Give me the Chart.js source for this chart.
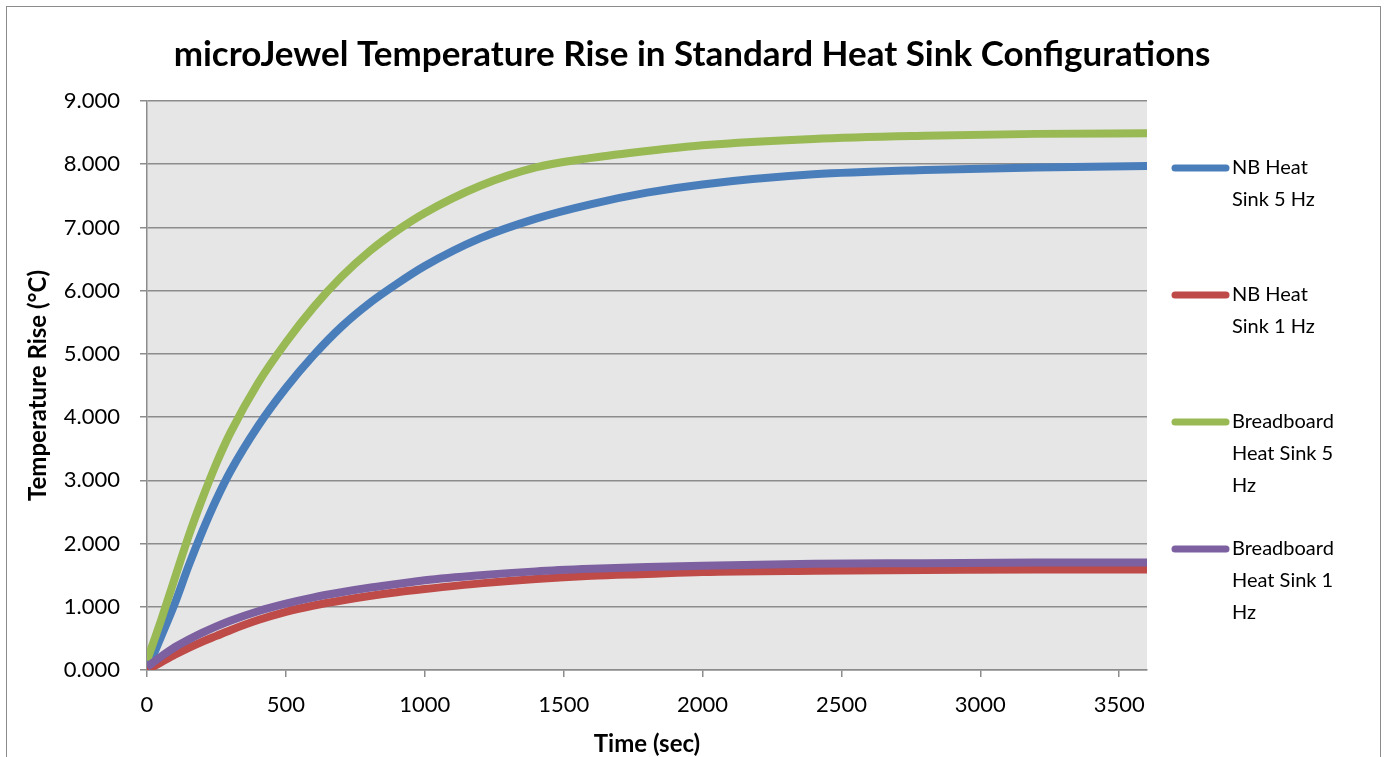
<!DOCTYPE html>
<html>
<head>
<meta charset="utf-8">
<script src="https://cdn.jsdelivr.net/npm/chart.js@4.4.1/dist/chart.umd.min.js"></script>
<style>
    html, body { margin: 0; padding: 0; background: #fff; }
    #wrap { width: 1384px; height: 757px; }
</style>
</head>
<body>
<div id="wrap"><canvas id="chart" width="1384" height="757"></canvas></div>
<script>
// time in seconds
const times = [0, 50, 100, 150, 200, 250, 300, 400, 500, 600, 700, 800, 900, 1000, 1200, 1400, 1600, 1800, 2000, 2400, 2800, 3200, 3600];

const nbHeatSink5Hz = [0, 0.52, 1.05, 1.65, 2.2, 2.7, 3.14, 3.86, 4.46, 4.98, 5.43, 5.8, 6.11, 6.39, 6.83, 7.14, 7.37, 7.55, 7.68, 7.84, 7.91, 7.95, 7.97];
const nbHeatSink1Hz = [0, 0.12, 0.24, 0.35, 0.45, 0.54, 0.63, 0.79, 0.92, 1.02, 1.1, 1.17, 1.23, 1.28, 1.37, 1.44, 1.49, 1.52, 1.55, 1.57, 1.58, 1.59, 1.59];
const bbHeatSink5Hz = [0.15, 0.78, 1.45, 2.12, 2.72, 3.27, 3.75, 4.54, 5.18, 5.74, 6.22, 6.62, 6.95, 7.23, 7.66, 7.95, 8.1, 8.21, 8.3, 8.4, 8.45, 8.48, 8.49];
const bbHeatSink1Hz = [0.05, 0.21, 0.36, 0.48, 0.59, 0.69, 0.78, 0.93, 1.05, 1.15, 1.23, 1.3, 1.36, 1.42, 1.5, 1.56, 1.6, 1.63, 1.65, 1.68, 1.69, 1.70, 1.70];

const xTickValues = [0, 500, 1000, 1500, 2000, 2500, 3000, 3500];

const seriesLabels = ['NB Heat Sink 5 Hz', 'NB Heat Sink 1 Hz', 'Breadboard Heat Sink 5 Hz', 'Breadboard Heat Sink 1 Hz'];
const legendLines = [
    ['NB Heat', 'Sink 5 Hz'],
    ['NB Heat', 'Sink 1 Hz'],
    ['Breadboard', 'Heat Sink 5', 'Hz'],
    ['Breadboard', 'Heat Sink 1', 'Hz']
];
const seriesColors = ['#4a7ebb', '#be4b48', '#98b954', '#7d60a0'];
const seriesValues = [nbHeatSink5Hz, nbHeatSink1Hz, bbHeatSink5Hz, bbHeatSink1Hz];

const chartTitle = 'microJewel Temperature Rise in Standard Heat Sink Configurations';
const FONT = 'Lato, "Open Sans", sans-serif';

const backgroundPlugin = {
    id: 'background',
    beforeDraw(chart) {
        const ctx = chart.ctx;
        const a = chart.chartArea;
        ctx.save();
        ctx.fillStyle = '#fff';
        ctx.fillRect(0, 0, chart.width, chart.height);
        ctx.strokeStyle = '#8c8c8c';
        ctx.lineWidth = 1;
        ctx.strokeRect(6.5, 6.5, chart.width - 10, chart.height + 20);
        ctx.fillStyle = '#e6e6e6';
        ctx.fillRect(a.left, a.top, a.right - a.left, a.bottom - a.top);
        ctx.restore();
    }
};

const titleAndLegendPlugin = {
    id: 'titleAndLegend',
    afterDraw(chart) {
        const ctx = chart.ctx;
        ctx.save();
        ctx.fillStyle = '#000';
        ctx.font = 'bold 35px ' + FONT;
        ctx.textAlign = 'center';
        ctx.textBaseline = 'middle';
        ctx.fillText(chartTitle, chart.width / 2, 55);

        ctx.font = '20px ' + FONT;
        ctx.textAlign = 'left';
        legendLines.forEach((lines, i) => {
            const y = 168 + i * 127;
            ctx.strokeStyle = seriesColors[i];
            ctx.lineWidth = 7;
            ctx.lineCap = 'round';
            ctx.beginPath();
            ctx.moveTo(1175, y);
            ctx.lineTo(1226, y);
            ctx.stroke();
            lines.forEach((txt, k) => {
                ctx.fillText(txt, 1232, y + k * 32);
            });
        });
        ctx.restore();
    }
};

const datasets = seriesValues.map((vals, i) => ({
    label: seriesLabels[i],
    data: times.map((t, j) => ({ x: t, y: vals[j] })),
    borderColor: seriesColors[i],
    backgroundColor: seriesColors[i],
    borderWidth: 8,
    pointRadius: 0,
    cubicInterpolationMode: 'monotone',
    borderJoinStyle: 'round',
    fill: false,
    order: 4 - i
}));

new Chart(document.getElementById('chart').getContext('2d'), {
    type: 'line',
    data: { datasets },
    plugins: [backgroundPlugin, titleAndLegendPlugin],
    options: {
        responsive: false,
        animation: false,
        layout: { padding: { left: 0, top: 101, right: 237, bottom: 0 } },
        plugins: {
            legend: { display: false },
            title: { display: false },
            tooltip: { enabled: false }
        },
        scales: {
            x: {
                type: 'linear',
                min: 0,
                max: 3600,
                afterFit(s) { s.height = 87; },
                afterBuildTicks(s) { s.ticks = xTickValues.map(v => ({ value: v })); },
                ticks: {
                    maxRotation: 0,
                    autoSkip: false,
                    padding: 15,
                    color: '#000',
                    font: { family: FONT, size: 22 },
                    callback: v => String(v)
                },
                grid: { drawOnChartArea: false, drawTicks: true, tickLength: 7, color: '#8c8c8c', lineWidth: 1.5 },
                border: { color: '#8c8c8c', width: 1.5 },
                title: {
                    display: true,
                    text: 'Time (sec)',
                    color: '#000',
                    font: { family: FONT, size: 24, weight: 'bold' },
                    padding: { top: 0, bottom: -2 }
                }
            },
            y: {
                min: 0,
                max: 9,
                afterFit(s) { s.width = 147; },
                ticks: {
                    stepSize: 1,
                    padding: 20,
                    color: '#000',
                    font: { family: FONT, size: 22 },
                    callback: v => v.toFixed(3)
                },
                grid: { tickLength: 7, color: '#8c8c8c', lineWidth: 1.5 },
                border: { color: '#8c8c8c', width: 1.5 },
                title: {
                    display: true,
                    text: 'Temperature Rise (°C)',
                    color: '#000',
                    font: { family: FONT, size: 24, weight: 'bold' },
                    padding: { top: 24, bottom: 0 }
                }
            }
        }
    }
});
</script>
</body>
</html>
